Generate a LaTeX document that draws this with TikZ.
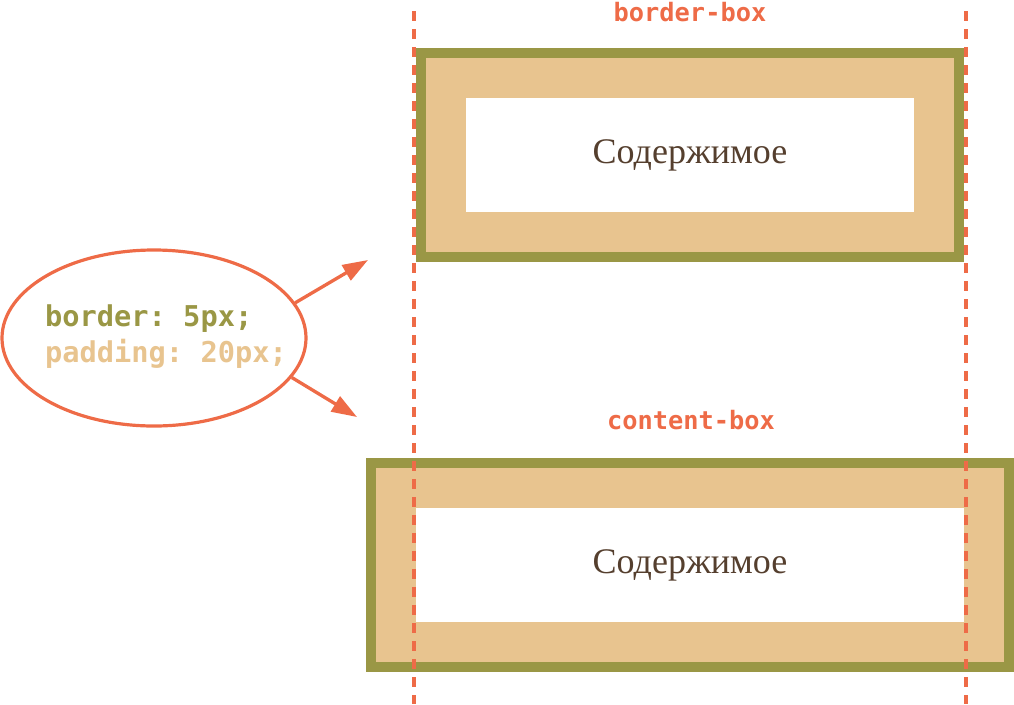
\documentclass[tikz,border=0pt]{standalone}
\usepackage{fontspec}
\setmainfont{Liberation Serif}
\setmonofont{DejaVu Sans Mono}
\usetikzlibrary{shapes.geometric}
\usetikzlibrary{arrows.meta}
\definecolor{accent}{HTML}{EE6B47}
\definecolor{olive}{HTML}{9A9745}
\definecolor{sand}{HTML}{E8C48F}
\definecolor{ink}{HTML}{553F2E}
\tikzset{x=0.75pt, y=-0.75pt,
boxborder/.style={ % border drawn on its centre line
draw=olive,
line width=7.5pt,
fill=sand},
content/.style={ % white content area
fill=white,
text=ink,
inner sep=0pt,
font=\fontsize{27}{30}\selectfont},
guide/.style={ % red dashed guide lines
draw=accent,
line width=3pt,
dash pattern=on 7.5pt off 6pt},
caption/.style={
text=accent,
anchor=base,
font=\ttfamily\bfseries\fontsize{19}{22}\selectfont},
pointer/.style={
draw=accent,
line width=2.5pt,
-{Triangle[length=19pt,width=13pt]}}}

\begin{document}
\begin{tikzpicture}
\useasboundingbox (0,0) rectangle (1014,704);
% border-box
\filldraw[boxborder] (421,53) rectangle (959,257);
\node[content, minimum width=336pt, minimum height=85.5pt] (inner) at (690,155) {Содержимое};
\node[caption] (bbox) at (690,21) {border-box};
% content-box
\filldraw[boxborder] (371,463) rectangle (1009,667);
\node[content, minimum width=411pt, minimum height=85.5pt] (wide) at (690,565) {Содержимое};
\node[caption] (cbox) at (691,429) {content-box};
% guides
\draw[guide] (414,11) -- (414,704);
\draw[guide] (966,11) -- (966,704);
% the rule
\node[ellipse, draw=accent, line width=2.4pt, minimum width=228pt, minimum height=132pt, inner sep=0pt] (code) at (154,338) {};
\node[align=left, inner sep=0pt, font=\ttfamily\bfseries\fontsize{21.5}{27}\selectfont] (rule) at (166,337) {\textcolor{olive}{border: 5px;}\\\textcolor{sand}{padding: 20px;}};
\coordinate (up) at (368,260);
\coordinate (down) at (357,417);
\draw[pointer] (code.14) -- (up);
\draw[pointer] (code.-16) -- (down);
\end{tikzpicture}
\end{document}
